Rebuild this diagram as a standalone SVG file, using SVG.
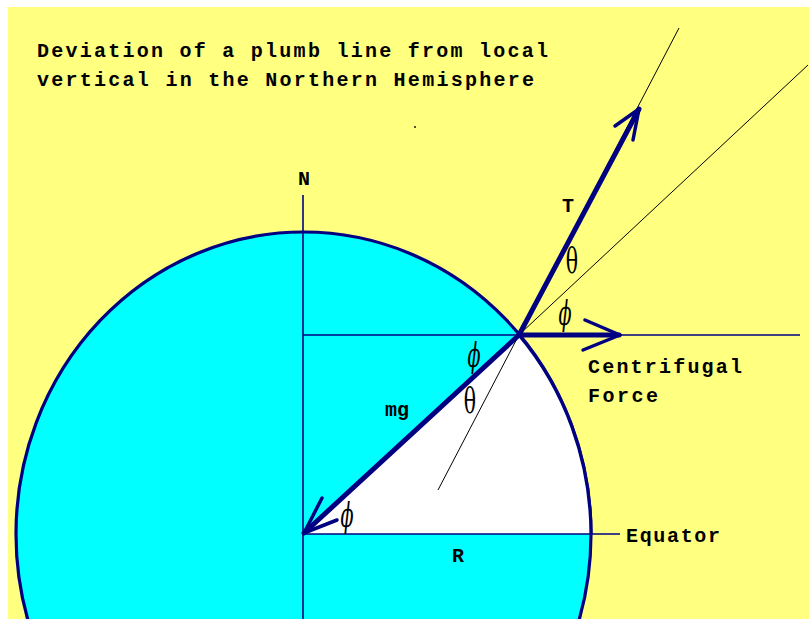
<svg xmlns="http://www.w3.org/2000/svg" width="809" height="619" viewBox="0 0 809 619">
<style>
.txt{font-family:"Liberation Mono","DejaVu Sans Mono",monospace;font-size:20px;font-weight:bold;fill:#000}
.thin{stroke:#000;stroke-width:1;fill:none}
.nav{stroke:#000080;stroke-width:1.6;fill:none}
.thick{stroke:#000080;stroke-width:5;fill:none;stroke-linecap:round;stroke-linejoin:round}
.barb{stroke:#000080;stroke-width:3.5;fill:none;stroke-linecap:round}
.gr{font-family:"DejaVu Serif","Liberation Serif",serif;font-size:24px;fill:#000;text-anchor:middle;dominant-baseline:central}
.ph{font-style:italic}
</style>
<rect x="0" y="0" width="809" height="619" fill="#ffffff"/>
<rect x="8" y="7" width="801" height="612" fill="#ffff80"/>
<g id="title">
<text class="txt" x="37" y="57" textLength="511" lengthAdjust="spacing">Deviation of a plumb line from local</text>
<text class="txt" x="37" y="86" textLength="497" lengthAdjust="spacing">vertical in the Northern Hemisphere</text>
</g>
<circle cx="415" cy="127" r="0.9" fill="#000"/>
<g id="earth">
<ellipse cx="303.5" cy="534" rx="287.5" ry="302" fill="#00ffff" stroke="#000080" stroke-width="3.2"/>
<path d="M303,534 L519,335 A287.5,302 0 0,1 591,534 Z" fill="#ffffff" stroke="none"/>
<path d="M519,335 A287.5,302 0 0,1 591,534" fill="none" stroke="#000080" stroke-width="3.2"/>
</g>
<g id="connectors">
<line class="nav" x1="303" y1="195" x2="303" y2="619"/>
<line class="nav" x1="303" y1="335" x2="800" y2="335"/>
<line class="nav" x1="303" y1="534" x2="620" y2="534"/>
<line class="thin" x1="679" y1="28" x2="438" y2="490"/>
<line class="thin" x1="521" y1="333" x2="808" y2="65"/>
<g id="mg-arrow">
<line class="thick" x1="519" y1="335" x2="304" y2="533"/>
<line class="barb" x1="304" y1="533" x2="322" y2="498"/>
<line class="barb" x1="304" y1="533" x2="337" y2="520"/>
</g>
<g id="T-arrow">
<line class="thick" x1="519" y1="335" x2="639" y2="109"/>
<line class="barb" x1="639" y1="109" x2="615" y2="126"/>
<line class="barb" x1="639" y1="109" x2="633" y2="140"/>
</g>
<g id="centrifugal-arrow">
<line class="thick" x1="519" y1="335" x2="619" y2="335"/>
<line class="barb" x1="620" y1="335" x2="585" y2="320"/>
<line class="barb" x1="620" y1="335" x2="583" y2="350"/>
</g>
</g>
<g id="labels">
<text class="txt" x="298" y="185">N</text>
<text class="txt" x="562" y="212">T</text>
<text class="txt" x="385" y="416">mg</text>
<text class="txt" x="452" y="562">R</text>
<text class="txt" x="588" y="373" textLength="154" lengthAdjust="spacing">Centrifugal</text>
<text class="txt" x="588" y="402" textLength="70" lengthAdjust="spacing">Force</text>
<text class="txt" x="626" y="542" textLength="94" lengthAdjust="spacing">Equator</text>
</g>
<g id="angles">
<text class="gr" transform="translate(572,261) scale(0.85,1.5)">θ</text>
<text class="gr" transform="translate(470,401) scale(0.85,1.5)">θ</text>
<text class="gr ph" transform="translate(565,313) scale(0.8,1.4)">ϕ</text>
<text class="gr ph" transform="translate(474,355) scale(0.8,1.4)">ϕ</text>
<text class="gr ph" transform="translate(347,515) scale(0.8,1.4)">ϕ</text>
</g>
</svg>
